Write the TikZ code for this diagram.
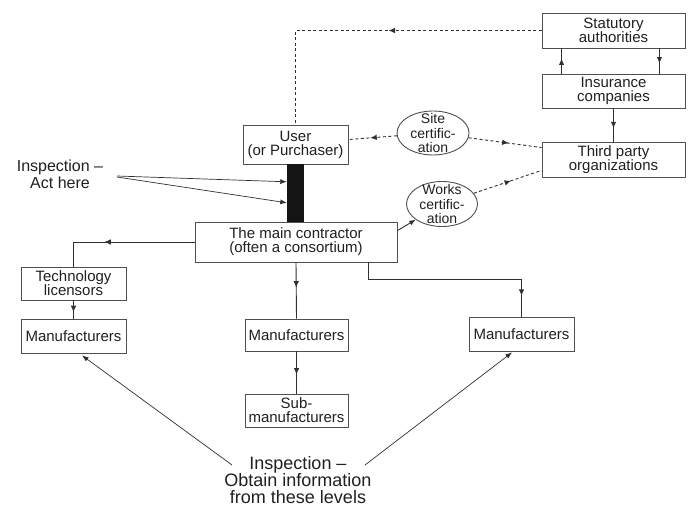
\documentclass[tikz,border=0pt]{standalone}
\usepackage{fontspec}
\setmainfont{Liberation Sans}
\usetikzlibrary{arrows.meta,decorations.markings,shapes.geometric,calc}
\definecolor{boxc}{HTML}{505050}
\definecolor{linec}{HTML}{303030}
\definecolor{txtc}{HTML}{202020}
\begin{document}
\begin{tikzpicture}[x=1pt,y=-1pt,
  box/.style={draw=boxc, line width=0.9pt, inner sep=0pt, align=center, text=txtc,
    font=\fontsize{15}{14}\selectfont},
  oval/.style={draw=boxc, line width=0.9pt, ellipse, inner sep=0pt},
  ovtext/.style={align=center, inner sep=0pt, text=txtc, font=\fontsize{14}{14.5}\selectfont},
  conn/.style={draw=linec, line width=0.9pt},
  dconn/.style={conn, dash pattern=on 3pt off 2.5pt},
  tip/.style={-{Latex[length=6.5pt,width=5pt]}},
  midarr/.style={postaction={decorate}, decoration={markings,
    mark=at position #1 with {\arrow{Latex[length=6.5pt,width=5.5pt]}}}},
  lbl/.style={align=center, inner sep=0pt, text=txtc}]
\useasboundingbox (0,0) rectangle (688,508);
\fill[white] (0,0) rectangle (688,508);

% boxes
\node[box, minimum width=143, minimum height=35] (stat) at (613.5,30.5) {Statutory\\authorities};
\node[box, minimum width=143, minimum height=34] (ins) at (613.5,91) {Insurance\\companies};
\node[box, minimum width=143, minimum height=35] (third) at (613.5,159.5) {Third party\\organizations};
\node[box, minimum width=105, minimum height=39] (user) at (295.5,144.5) {User\\(or Purchaser)};
\node[fill=black!92, minimum width=17, minimum height=58, inner sep=0pt] (bar) at (295.5,193) {};
\node[box, minimum width=202, minimum height=40] (main) at (296,242) {The main contractor\\(often a consortium)};
\node[box, minimum width=105, minimum height=33] (tech) at (73.5,283.5) {Technology\\licensors};
\node[box, minimum width=105, minimum height=34] (lman) at (73.5,336) {Manufacturers};
\node[box, minimum width=103, minimum height=32] (mman) at (296.5,335) {Manufacturers};
\node[box, minimum width=105, minimum height=34] (rman) at (521.5,334) {Manufacturers};
\node[box, minimum width=103, minimum height=33] (sub) at (296.5,410.5) {Sub-\\manufacturers};

% ellipses
\node[oval, minimum width=72, minimum height=44] (site) at (433,133) {};
\node[ovtext] at (site) {Site\\certific-\\ation};
\node[oval, minimum width=71, minimum height=45] (works) at (442,204) {};
\node[ovtext] at (works) {Works\\certific-\\ation};

% labels
\node[lbl, font=\fontsize{16}{17}\selectfont] (act) at (60,174) {Inspection –\\Act here};
\coordinate (actp) at (117,176);
\node[lbl, font=\fontsize{18}{17}\selectfont] (obtain) at (298,480) {Inspection –\\Obtain information\\from these levels};
\coordinate (bl) at (232,465);
\coordinate (br) at (365,465);

% connectors
\draw[dconn, midarr=0.45] (stat.west) -| (user.north);
\draw[conn, midarr=0.6] ($(ins.north west)+(20,0)$) -- ($(stat.south west)+(20,0)$);
\draw[conn, midarr=0.6] ($(stat.south east)+(-26,0)$) -- ($(ins.north east)+(-26,0)$);
\draw[conn, midarr=0.6] (ins.south) -- (third.north);
\draw[dconn, midarr=0.55] (site) -- ($(third.north west)+(0,6)$);
\draw[dconn, midarr=0.55] (works) -- ($(third.south west)+(0,-7)$);
\draw[dconn, midarr=0.55] (site) -- ($(user.north east)+(0,15)$);
\draw[conn, tip] ($(main.north east)+(0,9)$) -- (works);

\draw[conn, line width=0.7pt, tip] (actp) -- ($(bar.north west)+(0,18)$);
\draw[conn, line width=0.7pt, tip] ($(actp)+(0,1)$) -- ($(bar.north west)+(0,39)$);

\draw[conn, midarr=0.62] (main.west) -| (tech.north);
\draw[conn, midarr=0.65] (tech.south) -- (lman.north);
\draw[conn, midarr=0.45] (main.south) -- (mman.north);
\draw[conn, midarr=0.55] (mman.south) -- (sub.north);
\coordinate (mb) at ($(main.south east)+(-29,0)$);
\draw[conn, midarr=0.9] (mb) -- ++(0,17) -| (rman.north);

\draw[conn, line width=0.7pt, tip] (bl) -- ($(lman.south)+(8.5,2)$);
\draw[conn, line width=0.7pt, tip] (br) -- ($(rman.south)+(-9.5,1)$);
\end{tikzpicture}
\end{document}
